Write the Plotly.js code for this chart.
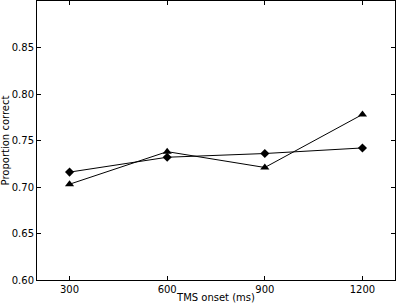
<!DOCTYPE html>
<html>
<head>
<meta charset="utf-8">
<script src="https://cdn.plot.ly/plotly-3.0.1.min.js"></script>
<style>html,body{margin:0;padding:0;background:#fff;}#chart{width:397px;height:303px;}</style>
</head>
<body>
<div id="chart"></div>
<script>
var onsets = [300, 600, 900, 1200];
var diamondSeries = [0.716, 0.732, 0.736, 0.742];
var triangleSeries = [0.703, 0.738, 0.721, 0.778];
var xTickLabels = ['300', '600', '900', '1200'];
var yTickValues = [0.60, 0.65, 0.70, 0.75, 0.80, 0.85];
var yTickLabels = ['0.60', '0.65', '0.70', '0.75', '0.80', '0.85'];

var traces = [
  {x: onsets, y: diamondSeries, mode: 'lines+markers', type: 'scatter',
   line: {color: '#000', width: 1},
   marker: {symbol: 'diamond', size: 7, color: '#000'}},
  {x: onsets, y: triangleSeries, mode: 'lines+markers', type: 'scatter',
   line: {color: '#000', width: 1},
   marker: {symbol: 'triangle-up', size: 8, color: '#000'}}
];
var axisCommon = {
  showline: true, linecolor: '#000', linewidth: 1, mirror: 'ticks',
  ticks: 'inside', ticklen: 4, tickcolor: '#000', tickwidth: 1,
  showgrid: false, zeroline: false,
  tickfont: {family: 'DejaVu Sans', size: 10, color: '#000'}
};
var layout = {
  width: 397, height: 303,
  margin: {l: 37, r: 2, t: 1, b: 23},
  paper_bgcolor: '#fff', plot_bgcolor: '#fff',
  showlegend: false,
  font: {family: 'DejaVu Sans', size: 10, color: '#000'},
  xaxis: Object.assign({}, axisCommon, {
    range: [200, 1300], tickvals: onsets, ticktext: xTickLabels,
    title: {text: 'TMS onset (ms)', font: {family: 'DejaVu Sans', size: 10}, standoff: 3}
  }),
  yaxis: Object.assign({}, axisCommon, {
    range: [0.6, 0.9], tickvals: yTickValues, ticktext: yTickLabels,
    title: {text: 'Proportion correct', font: {family: 'DejaVu Sans', size: 10}, standoff: 4}
  })
};
Plotly.newPlot('chart', traces, layout, {displayModeBar: false, staticPlot: true});
</script>
</body>
</html>
